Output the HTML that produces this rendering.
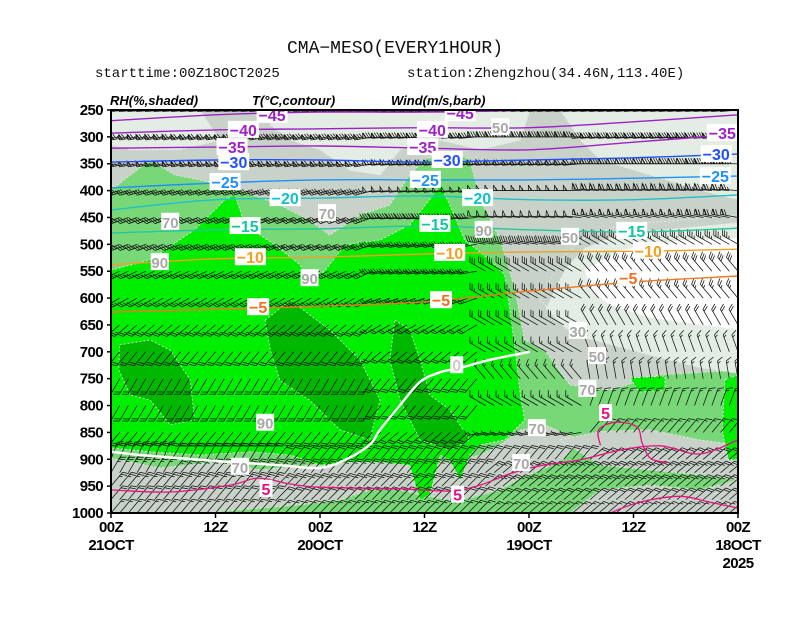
<!DOCTYPE html>
<html><head><meta charset="utf-8"><style>
html,body{margin:0;padding:0;background:#fff;}
svg{display:block;}
.ttl{font-family:"Liberation Mono",monospace;fill:#111;}
.ax{font-family:"Liberation Sans",sans-serif;font-weight:bold;font-size:15px;fill:#000;letter-spacing:-0.6px;}
.hdr{font-family:"Liberation Sans",sans-serif;font-weight:bold;font-style:italic;font-size:13px;fill:#000;}
</style></head><body>
<svg id="chart" width="812" height="628" viewBox="0 0 812 628">
<rect width="812" height="628" fill="#fff"/>
<text class="ttl" x="395" y="53" font-size="18" text-anchor="middle">CMA−MESO(EVERY1HOUR)</text>
<text class="ttl" x="95" y="77" font-size="14" fill="#444">starttime:00Z18OCT2025</text>
<text class="ttl" x="407" y="77" font-size="14" fill="#444">station:Zhengzhou(34.46N,113.40E)</text>
<text class="hdr" x="110" y="105">RH(%,shaded)</text>
<text class="hdr" x="252" y="105">T(°C,contour)</text>
<text class="hdr" x="391" y="105">Wind(m/s,barb)</text>
<defs><clipPath id="pc"><rect x="111" y="110" width="627" height="403"/></clipPath></defs>
<g id="plot" clip-path="url(#pc)"></g>
<g id="axes"></g>
</svg>
<script>
// ---- axis data ----
const pressureTicks=[250,300,350,400,450,500,550,600,650,700,750,800,850,900,950,1000];
const timeTicks=[0,12,24,36,48,60,72];
const timeLabels1=["00Z","12Z","00Z","12Z","00Z","12Z","00Z"];
const timeLabels2=["18OCT","","19OCT","","20OCT","","21OCT"];
// ---- RH shaded regions [hour, hPa] ----
const rhLight1=[[53.7,250],[23.9,250],[25,306],[29.6,324],[34.2,306],[38.8,324],[41.1,371],[44.6,362],[48,324],[51.4,306],[53.7,278]];
const rhLight2=[[20.4,250],[0,250],[0,417],[4.4,399],[10.1,371],[15.8,343],[18.1,306]];
const rhLight3=[[72,250],[61.8,250],[59.5,306],[64.1,324],[69.8,324],[72,315]];
const rhLightR=[[22.7,604],[20.4,529],[18.1,492],[13.6,464],[6.7,455],[0,445],[0,725],[4.4,715],[9,697],[13.6,678],[18.1,659],[20.4,641]];
const rhWhite=[[17.6,548],[13.6,511],[6.7,492],[0,488],[0,659],[4.4,650],[10.1,637],[14.7,613],[17,585]];
const rhGreen70=[[72,399],[67.5,343],[64.7,371],[61.8,380],[57.2,399],[52.6,427],[49.2,455],[46.9,483],[43.4,445],[40,427],[37.7,371],[36,343],[33.1,324],[30.8,343],[29.6,417],[27.3,492],[25.6,585],[24.5,678],[22.2,697],[19.3,762],[14.7,771],[9,743],[0,734],[0,1000],[72,1000]];
const rhGrayLow=[[72,898],[66.4,916],[59.5,905],[54.9,920],[50.3,913],[45.7,905],[41.1,892],[36.5,901],[33.1,905],[29.6,892],[27.3,873],[25,846],[22.2,836],[18.1,864],[20.4,905],[25,935],[27.3,957],[30.8,972],[33.1,976],[36.5,966],[38.8,957],[42.3,957],[45.7,976],[50.3,985],[54.9,991],[61.8,1000],[72,1000]];
const rhGrayR1=[[20.4,864],[15.8,848],[10.1,845],[4.4,864],[0,873],[0,938],[4.4,929],[10.1,920],[15.8,911]];
const rhGrayR2=[[19.3,1000],[15.8,957],[10.1,948],[4.4,957],[0,938],[0,1000]];
const rhGreen90=[[72,548],[67.5,529],[62.4,473],[58.9,417],[57.8,408],[56.6,464],[53.2,501],[50.3,538],[49.2,576],[47.4,548],[45.1,501],[41.1,492],[37.7,464],[35.4,417],[34.2,390],[33.1,427],[31.4,492],[28.5,529],[26.8,557],[26.2,622],[25.6,697],[25,780],[24.5,827],[26.8,864],[29.6,873],[30.8,892],[31.9,939],[33.1,901],[34.2,892],[35.4,966],[36.5,976],[37.7,911],[41.1,905],[44.6,905],[48,911],[51.4,892],[56,886],[61.8,892],[67.5,886],[72,879]];
const rhGreen90b=[[1.5,752],[0,743],[0,901],[1.1,901],[1.8,846]];
const rhGreen90c=[[12.4,749],[8.4,745],[8.4,771],[11.3,775]];
const rhDark1=[[71,687],[67.5,678],[65.2,697],[62.9,752],[62.4,827],[65.2,836],[67.5,790],[69.8,780],[71.1,734]];
const rhDark2=[[54.3,641],[51.4,604],[46.9,659],[43.4,715],[41.1,790],[42.3,864],[45.7,845],[49.2,790],[52.6,753],[53.7,697]];
const rhDark3=[[39.4,641],[37.7,659],[36.5,715],[35.4,780],[33.1,808],[30.8,864],[33.1,883],[36.5,864],[38.8,790],[40,715]];
const rhLabels=[[65.2,458,"70"],[66.4,533,"90"],[47.2,442,"70"],[49.2,563,"90"],[29.2,473,"90"],[27.3,282,"50"],[19.3,486,"50"],[18.4,661,"30"],[16.2,708,"50"],[17.3,769,"70"],[54.3,832,"90"],[23.1,842,"70"],[24.9,907,"70"],[57.2,914,"70"]];
// ---- temperature contours: pressure (hPa) at hours 0,12,...,72 ----
const contourTimes=[0,12,24,36,48,60,72];
const tM45=[231,241,250,254,254,259,270];
const tM40=[259,272,283,283,285,287,293];
const tM35=[295,310,324,321,317,319,321];
const tM30=[332,339,343,347,343,343,347];
const tM25=[373,377,380,380,380,386,395];
const tM20=[408,417,417,410,414,417,436];
const tM15=[470,477,473,466,471,473,479];
const tM10=[509,513,514,518,524,527,538];
const tM5=[559,570,587,607,615,621,626];
const t0Hours=[23.9,28.5,31.9,34.2,36.5,38.8,41.1,42.3,45.1,48,52.6,58.3,64.1,68.7,72];
const t0Pres=[700,715,730,738,756,799,845,873,901,916,911,905,898,892,886];
const t5Hours=[0,4.4,8.9,13.5,18.1,22.7,26.2,29.6,33,38.8,48,51.4,55.1,58.3,65.2,72];
const t5Pres=[864,890,875,883,901,912,927,948,959,955,952,946,935,948,961,957];
const t5LoopHours=[15.8,16,14,11.6,11,10,8];
const t5LoopPres=[874,845,831,840,870,899,906];
const t5ArcHours=[14.7,11.3,6.7,3.2,0];
const t5ArcPres=[1000,980,969,980,991];
const tempLabels=[
 [53.5,259,"-45"],[31.9,256,"-45"],
 [56.8,287,"-40"],[35.1,287,"-40"],
 [58.1,319,"-35"],[36.2,319,"-35"],[1.8,293,"-35"],
 [57.9,347,"-30"],[33.4,343,"-30"],[2.5,332,"-30"],
 [58.9,384,"-25"],[35.9,380,"-25"],[2.6,373,"-25"],
 [52,414,"-20"],[29.9,414,"-20"],
 [56.6,466,"-15"],[34.8,462,"-15"],[12.2,475,"-15"],
 [56,524,"-10"],[33.1,516,"-10"],[10.3,512,"-10"],
 [55.1,617,"-5"],[34.1,604,"-5"],[12.6,563,"-5"],
 [32.3,725,"0"],
 [54.2,955,"5"],[32.2,966,"5"],[15.2,814,"5"]];
// ---- wind: per level, direction (deg from) and speed (m/s) for 12h blocks at hours 0..72 ----
const windLevels=[250,300,350,400,450,500,550,600,650,700,750,800,850,900,925,950,975,1000];
const windDir=[
 [265,265,265,265,265,265,265],[265,265,270,265,260,260,260],[270,270,265,265,260,260,260],
 [275,275,270,265,255,255,255],[280,280,275,265,250,250,250],[300,300,280,260,250,250,250],
 [320,320,300,260,245,245,245],[320,320,300,250,240,240,240],[330,330,300,240,230,230,230],
 [340,340,300,230,220,220,220],[350,350,320,220,210,210,210],[20,20,300,220,210,210,210],
 [40,40,260,230,220,220,220],[50,50,40,40,40,30,20],[50,50,50,40,40,40,30],
 [50,50,50,45,45,40,40],[50,50,50,45,45,40,40],[50,50,50,45,45,40,40]];
const windSpd=[
 [36,38,38,38,36,34,32],[36,36,34,34,32,30,30],[34,32,30,30,28,28,26],
 [30,28,22,20,16,14,14],[28,26,20,16,14,12,12],[14,14,16,14,14,12,12],
 [12,12,12,12,12,10,10],[10,10,10,10,10,10,10],[8,8,8,8,10,10,10],
 [6,6,6,8,8,8,8],[6,6,6,8,8,8,8],[6,6,6,8,8,8,8],
 [6,6,6,8,8,8,8],[8,8,8,8,8,8,8],[10,10,10,10,10,10,10],
 [10,10,10,10,10,10,10],[8,8,8,8,8,8,8],[6,6,6,6,6,6,6]];

const NS="http://www.w3.org/2000/svg";
const L=111,R=738,T=110,B=513;
function X(t){return R-(t/72)*(R-L);}
function Y(p){return T+(p-250)/750*(B-T);}
const plot=document.getElementById('plot');
const axes=document.getElementById('axes');
function mk(tag,attrs,parent){const e=document.createElementNS(NS,tag);for(const k in attrs)e.setAttribute(k,attrs[k]);parent.appendChild(e);return e;}
function poly(pts,fill,name){
  const e=mk('polygon',{points:pts.map(q=>X(q[0]).toFixed(1)+','+Y(q[1]).toFixed(1)).join(' '),fill:fill,stroke:'#e8ece8','stroke-width':'0.8','stroke-dasharray':'2,2'},plot);
  
  
}
function smooth(pts){
  let d='M'+pts[0][0].toFixed(1)+','+pts[0][1].toFixed(1);
  for(let i=0;i<pts.length-1;i++){
    const p0=pts[Math.max(0,i-1)],p1=pts[i],p2=pts[i+1],p3=pts[Math.min(pts.length-1,i+2)];
    const c1=[p1[0]+(p2[0]-p0[0])/6,p1[1]+(p2[1]-p0[1])/6],c2=[p2[0]-(p3[0]-p1[0])/6,p2[1]-(p3[1]-p1[1])/6];
    d+=' C'+c1[0].toFixed(1)+','+c1[1].toFixed(1)+' '+c2[0].toFixed(1)+','+c2[1].toFixed(1)+' '+p2[0].toFixed(1)+','+p2[1].toFixed(1);
  }
  return d;
}
const base=mk('rect',{x:L,y:T,width:R-L,height:B-T,fill:'#c9d2c9'},plot);


poly(rhLight1,'#e3ede3','rh-30-50-area');
poly(rhLight2,'#e3ede3','rh-30-50-area');
poly(rhLight3,'#e3ede3','rh-30-50-area');
poly(rhGreen70,'#78d878','rh-70-90-area');
poly(rhLightR,'#c9d2c9','rh-50-70-area');
poly(rhLightR.map(q=>[q[0]*0.97,q[1]+15]),'#e3ede3','rh-30-50-area');
poly(rhWhite,'#ffffff','rh-below-30-area');
poly(rhGrayLow,'#c9d2c9','rh-50-70-area');
poly(rhGrayR1,'#c9d2c9','rh-50-70-area');
poly(rhGrayR2,'#c9d2c9','rh-50-70-area');
poly(rhGreen90,'#00ee00','rh-above-90-area');
poly(rhGreen90b,'#00ee00','rh-above-90-area');
poly(rhGreen90c,'#00ee00','rh-above-90-area');
poly(rhDark1,'#00b800','rh-above-95-area');
poly(rhDark2,'#00b800','rh-above-95-area');
poly(rhDark3,'#00b800','rh-above-95-area');

// wind barbs
const wg=mk('g',{},plot);


windLevels.forEach((lev,li)=>{
  for(let h=0;h<=72;h++){
    const bi=Math.round(h/12);
    const dir=windDir[li][bi]*Math.PI/180, spd=windSpd[li][bi];
    const x0=X(h),y0=Y(lev);
    const ux=Math.sin(dir),uy=-Math.cos(dir);
    const nx=-uy,ny=ux;
    const len=18;
    let d='M'+x0.toFixed(1)+','+y0.toFixed(1)+' L'+(x0+ux*len).toFixed(1)+','+(y0+uy*len).toFixed(1);
    let s=Math.round(spd/2)*2,pos=len;
    while(s>=20){const bx=x0+ux*pos,by=y0+uy*pos,ex=x0+ux*(pos-3),ey=y0+uy*(pos-3);
      d+=' M'+bx.toFixed(1)+','+by.toFixed(1)+' L'+(bx+nx*5.5).toFixed(1)+','+(by+ny*5.5).toFixed(1)+' L'+ex.toFixed(1)+','+ey.toFixed(1);
      pos-=3.5;s-=20;}
    while(s>=4){const bx=x0+ux*pos,by=y0+uy*pos;
      d+=' M'+bx.toFixed(1)+','+by.toFixed(1)+' L'+(bx+nx*5.5+ux*3).toFixed(1)+','+(by+ny*5.5+uy*3).toFixed(1);
      pos-=2.5;s-=4;}
    if(s>=2){if(pos===len)pos-=2.5;const bx=x0+ux*pos,by=y0+uy*pos;
      d+=' M'+bx.toFixed(1)+','+by.toFixed(1)+' L'+(bx+nx*2.8+ux*1.5).toFixed(1)+','+(by+ny*2.8+uy*1.5).toFixed(1);}
    const b=mk('path',{d:d,stroke:'#111',fill:'none','stroke-width':'0.75'},wg);
    
    
  }
});

// temperature contours
const tempSet=[[tM45,'#a020c8'],[tM40,'#a020c8'],[tM35,'#a020c8'],[tM30,'#2050ff'],[tM25,'#1e90ff'],[tM20,'#20c0c8'],[tM15,'#20c8a0'],[tM10,'#f0a020'],[tM5,'#f07820']];
const labelColor={"-45":'#a020c8',"-40":'#a020c8',"-35":'#a020c8',"-30":'#2050ff',"-25":'#1e90ff',"-20":'#10c0c8',"-15":'#10c8a0',"-10":'#f0a020',"-5":'#f07020',"0":'#ffffff',"5":'#e81080'};
tempSet.forEach(s=>{
  const pts=contourTimes.map((t,i)=>[X(t),Y(s[0][i])]);
  const e=mk('path',{d:smooth(pts),stroke:s[1],fill:'none','stroke-width':'1.4'},plot);
  
  
});
function line(hs,ps,color,w,name){
  const e=mk('path',{d:smooth(hs.map((t,i)=>[X(t),Y(ps[i])])),stroke:color,fill:'none','stroke-width':w},plot);
  
  
}
line(t0Hours,t0Pres,'#ffffff','2.5','temperature-contour-0');
line(t5Hours,t5Pres,'#e81080','1.3','temperature-contour-5');
line(t5LoopHours,t5LoopPres,'#e81080','1.3','temperature-contour-5');
line(t5ArcHours,t5ArcPres,'#e81080','1.3','temperature-contour-5');

rhLabels.forEach(l=>{
  const x=X(l[0]),y=Y(l[1]);
  const r=mk('rect',{x:x-9,y:y-9,width:18,height:17,fill:'#fff'},plot);
  
  
  const t=mk('text',{x:x,y:y+6,'text-anchor':'middle','font-family':'Liberation Sans, sans-serif','font-size':'15','font-weight':'bold',fill:'#a8a8a8'},plot);
  t.textContent=l[2];
  
  
});
tempLabels.forEach(l=>{
  const x=X(l[0]),y=Y(l[1]);
  const w=l[2].length*9+4;
  const r=mk('rect',{x:x-w/2,y:y-9,width:w,height:17,fill:'#fff'},plot);
  
  
  const t=mk('text',{x:x,y:y+6,'text-anchor':'middle','font-family':'Liberation Sans, sans-serif','font-size':'16','font-weight':'bold',fill:l[2]==="0"?'#ccc':labelColor[l[2]]},plot);
  t.textContent=l[2].replace('-','−');
  
  
});

const fr=mk('rect',{x:L,y:T,width:R-L,height:B-T,fill:'none',stroke:'#000','stroke-width':'2'},axes);


pressureTicks.forEach(p=>{
  const tk=mk('line',{x1:L-4,x2:L,y1:Y(p),y2:Y(p),stroke:'#000','stroke-width':'1.5'},axes);
  
  
  const t=mk('text',{x:L-8,y:Y(p)+5,'text-anchor':'end',class:'ax'},axes);
  t.textContent=p;
  
  
});
timeTicks.forEach((h,i)=>{
  const tk=mk('line',{x1:X(h),x2:X(h),y1:B,y2:B+5,stroke:'#000','stroke-width':'1.5'},axes);
  
  
  const t=mk('text',{x:X(h),y:B+19,'text-anchor':'middle',class:'ax'},axes);
  t.textContent=timeLabels1[i];
  
  
  if(timeLabels2[i]){
    const t2=mk('text',{x:X(h),y:B+37,'text-anchor':'middle',class:'ax'},axes);
    t2.textContent=timeLabels2[i];
    
    
  }
});
const yr=mk('text',{x:X(0),y:B+55,'text-anchor':'middle',class:'ax'},axes);
yr.textContent='2025';


</script>
</body></html>
